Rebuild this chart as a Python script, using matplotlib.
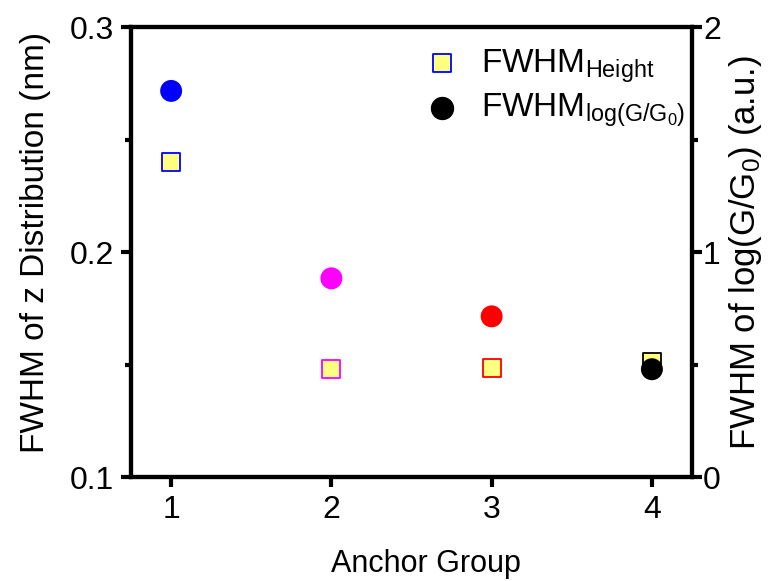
import matplotlib.pyplot as plt
from matplotlib.ticker import MultipleLocator

# Data
groups = [1, 2, 3, 4]
fwhm_height = [0.240, 0.148, 0.1485, 0.151]      # left axis (nm)
fwhm_logg = [1.716, 0.883, 0.714, 0.479]          # right axis (a.u.)
point_colors = ['#0000ff', '#ff00ff', '#ff0000', '#000000']

plt.rcParams['font.family'] = ['Liberation Sans', 'DejaVu Sans']
plt.rcParams['mathtext.fontset'] = 'custom'
plt.rcParams['mathtext.rm'] = 'Liberation Sans'
plt.rcParams['mathtext.it'] = 'Liberation Sans'

fig = plt.figure(figsize=(7.71, 5.81), dpi=100)
ax = fig.add_axes([0.170, 0.179, 0.7275, 0.7745])
ax2 = ax.twinx()

# squares on left axis
ax.scatter(groups, fwhm_height, marker='s', s=165, facecolor='#ffff80',
           edgecolors=point_colors, linewidths=1.3, zorder=3)
# circles on right axis
ax2.scatter(groups, fwhm_logg, marker='o', s=250, color=point_colors,
            edgecolors='none', zorder=3)

ax.set_xlim(0.75, 4.25)
ax.set_ylim(0.1, 0.3)
ax2.set_ylim(0, 2)

ax.set_xticks(groups)
ax.set_yticks([0.1, 0.2, 0.3])
ax.yaxis.set_minor_locator(MultipleLocator(0.05))
ax2.set_yticks([0, 1, 2])
ax2.yaxis.set_minor_locator(MultipleLocator(0.5))

for a in (ax, ax2):
    for sp in a.spines.values():
        sp.set_linewidth(3)
    a.tick_params(which='major', direction='out', length=7, width=3,
                  labelsize=23)
    a.tick_params(which='minor', direction='out', length=4, width=3)
ax.tick_params(axis='x', which='minor', bottom=False)
ax.tick_params(axis='x', pad=6)
ax.tick_params(axis='y', pad=5)
ax2.tick_params(axis='y', pad=1)

ax.set_xlabel('Anchor Group', fontsize=22)
ax.xaxis.set_label_coords(0.526, -0.16)
ax.set_ylabel('FWHM of z Distribution (nm)', fontsize=24)
ax.yaxis.set_label_coords(-0.142, 0.522)
ax2.set_ylabel(r'FWHM of log(G/G$_0$) (a.u.)', fontsize=25, labelpad=4)

# legend
h1 = ax.scatter([], [], marker='s', s=165, facecolor='#ffff80',
                edgecolors='#0000ff', linewidths=1.3)
h2 = ax.scatter([], [], marker='o', s=250, color='#000000')
ax2.legend([h1, h2],
           [r'FWHM$_{\mathrm{Height}}$', r'FWHM$_{\mathrm{log(G/G_0)}}$'],
           loc='upper left', bbox_to_anchor=(0.46, 1.0), frameon=False,
           fontsize=24, handletextpad=0.15, labelspacing=0.2,
           borderaxespad=0.2)

fig.savefig('out.png', dpi=100)
